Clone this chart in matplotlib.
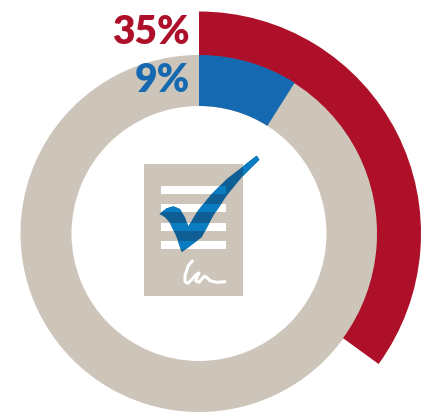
import matplotlib
matplotlib.use('Agg')
import matplotlib.pyplot as plt
from matplotlib.patches import Polygon, Rectangle, Wedge

# donut values in percent
outer_value = 35
inner_value = 9
labels = ['35%', '9%']

GREY = '#cdc5ba'
RED = '#ad1028'
BLUE = '#1569b0'
CHECK_DARK = '#0f5f95'
CHECK_LIGHT = '#0a7cc2'

W, H = 435, 414
fig = plt.figure(figsize=(W / 100, H / 100), dpi=100)
ax = fig.add_axes([0, 0, 1, 1])
ax.set_xlim(0, W)
ax.set_ylim(H, 0)
ax.axis('off')

cx, cy = 199, 234.5


def clock_wedge(pct, r, width, color):
    # y axis is flipped, so angles run clockwise from 12 o'clock
    return Wedge((cx, cy), r, -90, -90 + pct * 3.6, width=width, color=color, lw=0)


ax.add_patch(Wedge((cx, cy), 178.5, 0, 360, width=51, color=GREY, lw=0))
ax.add_patch(clock_wedge(outer_value, 222, 44, RED))
ax.add_patch(clock_wedge(inner_value, 178.5, 51, BLUE))

ax.text(190, 33, labels[0], color=RED, fontsize=28, fontweight='heavy',
        family='Lato', ha='right', va='center')
ax.text(190, 81, labels[1], color=BLUE, fontsize=28, fontweight='heavy',
        family='Lato', ha='right', va='center')

# document icon
ax.add_patch(Rectangle((144, 165), 99, 132, color=GREY, lw=0))
line_tops = [187, 205, 224, 242]
for y in line_tops:
    ax.add_patch(Rectangle((161, y), 65, 8, color='white', lw=0))

# signature
ax.plot([192.3, 188.3, 185, 185, 187.7, 191.7, 195.7, 199, 197, 195.7, 199, 204.3, 206.7, 210, 216.7, 225],
        [262, 266.7, 276.7, 282.7, 284.3, 280.7, 276, 274, 278, 281.7, 283.3, 277.3, 278.3, 281.7, 283.3, 282.7],
        color='white', lw=2.2, solid_capstyle='round', solid_joinstyle='round')

# check mark: dark over the sheet, lighter where it crosses the white lines
check_pts = [(159.3, 215), (166.7, 209.3), (173.3, 207.3), (180, 210), (185, 218.3), (188.3, 227.3),
             (196.7, 213.3), (210, 196.7), (226.7, 180), (256.7, 156.7), (259.3, 160.7), (241.7, 178.3),
             (226.7, 196.7), (213.3, 216.7), (201.7, 238.3), (181.7, 253.3), (176.7, 238.3),
             (170, 224), (165, 218.3)]
check = Polygon(check_pts, closed=True, color=CHECK_DARK, lw=0)
ax.add_patch(check)
light_areas = [(161, y, 65, 8) for y in line_tops]
light_areas += [(144, 150, 120, 15), (243, 150, 20, 40)]
for x, y, w, h in light_areas:
    band = Rectangle((x, y), w, h, color=CHECK_LIGHT, lw=0)
    ax.add_patch(band)
    band.set_clip_path(check)

fig.savefig('out.png', dpi=100)
